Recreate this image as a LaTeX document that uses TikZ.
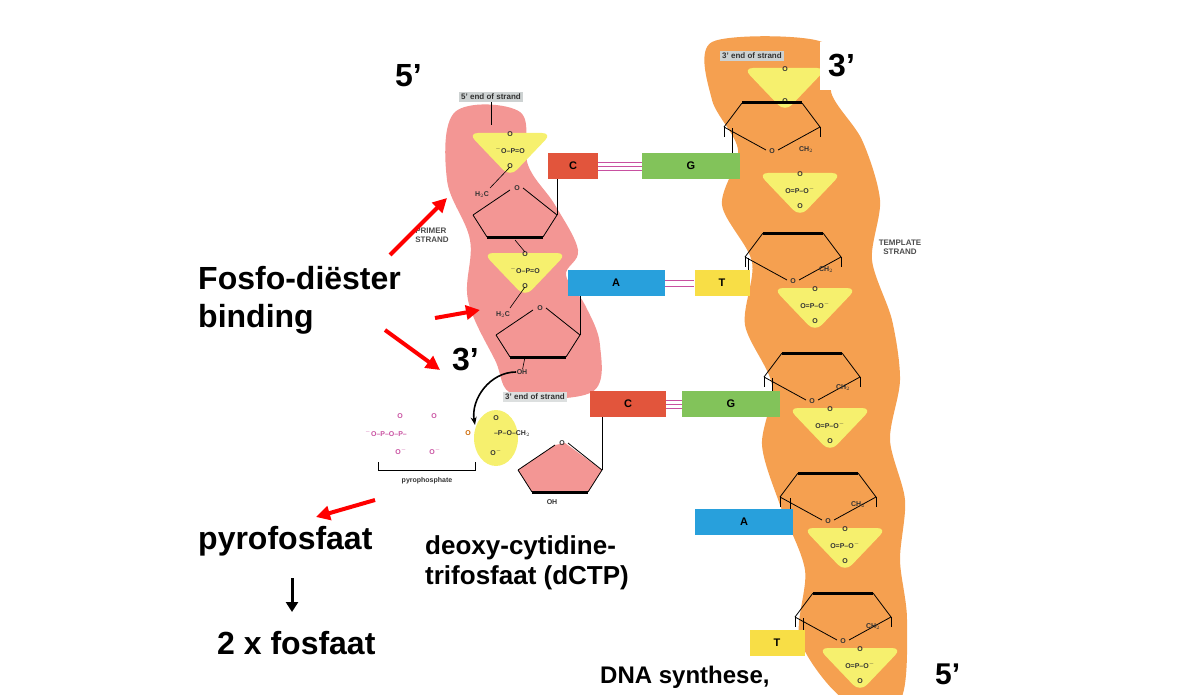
\documentclass[tikz,border=0pt]{standalone}
\usepackage{fontspec}
\setmainfont{Liberation Sans}
\usetikzlibrary{arrows.meta}
\definecolor{pinkb}{RGB}{243,150,148}
\definecolor{orb}{RGB}{245,160,80}
\definecolor{yel}{RGB}{246,240,110}
\definecolor{cred}{RGB}{226,85,60}
\definecolor{ggreen}{RGB}{130,195,90}
\definecolor{ablue}{RGB}{40,160,220}
\definecolor{tyel}{RGB}{248,222,70}
\definecolor{gbox}{RGB}{205,210,210}
\definecolor{pp}{RGB}{200,80,160}
\newcommand\ringA[2]{%
 \draw[line width=0.8pt] (#1-42,#2) -- (#1-5,#2-25) (#1+8,#2-27) -- (#1+42,#2) -- (#1+28,#2+22);
 \draw[line width=0.8pt] (#1-42,#2) -- (#1-28,#2+22);
 \draw[line width=3pt] (#1-28,#2+22) -- (#1+28,#2+22);
 \node[chem] at (#1+2,#2-27) {O};}
\newcommand\ringB[2]{%
 \draw[line width=0.8pt] (#1-48,#2+2) -- (#1-30,#2-22) (#1+30,#2-22) -- (#1+48,#2+2) -- (#1+6,#2+25) (#1-6,#2+25) -- (#1-48,#2+2);
 \draw[line width=3pt] (#1-30,#2-22) -- (#1+30,#2-22);
 \draw[line width=0.6pt] (#1-48,#2+2) -- (#1-48,#2+12) (#1+48,#2+2) -- (#1+48,#2+12);
 \node[chem] at (#1,#2+26) {O};}
\newcommand\phos[3]{%
 \fill[yel,rounded corners=10pt] (#1-42,#2-17) -- (#1+42,#2-17) -- (#1,#2+27) -- cycle;
 \node[chem] at (#1,#2-16) {O};
 \node[chem] at (#1,#2) {#3};
 \node[chem] at (#1,#2+16) {O};}
\tikzset{chem/.style={font=\bfseries\fontsize{7}{8}\selectfont, inner sep=0.5pt, text=black!80},
 big/.style={font=\bfseries\fontsize{32}{38}\selectfont, inner sep=0pt, anchor=west, align=left},
 med/.style={font=\bfseries\fontsize{26}{30}\selectfont, inner sep=0pt, anchor=west, align=left},
 base/.style={draw=none, minimum height=26pt, font=\bfseries\fontsize{11}{12}\selectfont, inner sep=0pt},
 tag/.style={fill=gbox, font=\bfseries\fontsize{8}{9}\selectfont, inner sep=2pt, text=black!80},
 redarr/.style={-{Triangle[length=14pt,width=14pt]}, red, line width=4pt},
 hb/.style={pp, line width=0.8pt},
 stem/.style={line width=0.6pt}}
\begin{document}
\begin{tikzpicture}[x=1pt,y=-1pt]
\useasboundingbox (0,0) rectangle (1198,695);
\begin{scope}
\clip (0,0) rectangle (1198,695);
\fill[pinkb] plot[smooth cycle, tension=0.6] coordinates {(455,112) (520,112) (528,165) (555,205) (578,250) (566,275) (585,305) (600,345) (592,392) (515,395) (495,360) (468,300) (470,240) (447,180)};
\fill[orb] plot[smooth cycle, tension=0.5] coordinates {(712,42) (822,42) (832,95) (862,140) (880,200) (872,260) (892,320) (900,380) (890,440) (905,500) (900,560) (907,620) (900,700) (845,700) (800,640) (805,570) (780,505) (762,445) (772,385) (745,325) (752,262) (722,205) (738,150) (712,100)};
\end{scope}
% primer strand
\node[tag] (t5) at (491,97) {5' end of strand};
\draw[stem] (t5) -- (491,125);
\phos{510}{150}{$^-$O–P=O}
\ringA{515}{215}
\node[chem] at (482,195) {H$_2$C};
\draw[stem] (510,167) -- (490,188);
\phos{525}{270}{$^-$O–P=O}
\draw[stem] (515,240) -- (525,252);
\ringA{538}{335}
\node[chem] at (503,315) {H$_2$C};
\draw[stem] (525,287) -- (510,308);
\node[chem] (oh) at (522,372) {OH};
\draw[stem] (525,357) -- (oh);
\node[font=\bfseries\fontsize{8}{9}\selectfont, text=black!70, align=left, inner sep=0] at (432,235) {PRIMER\\STRAND};
% template strand
\phos{785}{85}{}
\node[tag, anchor=west] (t3) at (720,56) {3' end of strand};
\ringB{772}{125}
\node[chem] at (806,150) {CH$_2$};
\phos{800}{190}{O=P–O$^-$}
\ringB{793}{255}
\node[chem] at (826,270) {CH$_2$};
\phos{815}{305}{O=P–O$^-$}
\ringB{812}{375}
\node[chem] at (843,388) {CH$_2$};
\phos{830}{425}{O=P–O$^-$}
\ringB{828}{495}
\node[chem] at (858,505) {CH$_2$};
\phos{845}{545}{O=P–O$^-$}
\ringB{843}{615}
\node[chem] at (873,627) {CH$_2$};
\phos{860}{665}{O=P–O$^-$}
\node[font=\bfseries\fontsize{8}{9}\selectfont, text=black!70, align=center, inner sep=0] at (900,247) {TEMPLATE\\STRAND};
% base pairs
\node[base, fill=cred, minimum width=50pt] (c1) at (573,166) {C};
\node[base, fill=ggreen, minimum width=98pt] (g1) at (691,166) {G};
\draw[hb] ([yshift=-4pt]c1.east) -- ([yshift=-4pt]g1.west) (c1.east) -- (g1.west) ([yshift=4pt]c1.east) -- ([yshift=4pt]g1.west);
\node[base, fill=ablue, minimum width=97pt] (a1) at (616,283) {A};
\node[base, fill=tyel, minimum width=55pt] (t1) at (722,283) {T};
\draw[hb] ([yshift=-3pt]a1.east) -- ([yshift=-3pt]t1.west) ([yshift=3pt]a1.east) -- ([yshift=3pt]t1.west);
\node[base, fill=cred, minimum width=76pt] (c2) at (628,404) {C};
\node[base, fill=ggreen, minimum width=98pt] (g2) at (731,404) {G};
\draw[hb] ([yshift=-4pt]c2.east) -- ([yshift=-4pt]g2.west) (c2.east) -- (g2.west) ([yshift=4pt]c2.east) -- ([yshift=4pt]g2.west);
\node[base, fill=ablue, minimum width=98pt] (a2) at (744,522) {A};
\node[base, fill=tyel, minimum width=55pt] (t2) at (777,643) {T};
\draw[stem] (c1.south -| 557,0) -- (557,215);
\draw[stem] (a1.south -| 580,0) -- (580,335);
\draw[stem] (c2.south -| 602,0) -- (602,470);
\draw[stem] (g1.north -| 732,0) -- (732,128);
\draw[stem] (t1.north -| 748,0) -- (748,258);
\draw[stem] (g2.north -| 772,0) -- (772,378);
\draw[stem] (a2.north -| 790,0) -- (790,498);
\draw[stem] (t2.north -| 803,0) -- (803,618);
% dCTP
\node[tag, fill=gbox!70] (t3b) at (535,397) {3' end of strand};
\fill[yel] (496,438) ellipse (22pt and 28pt);
\node[chem, text=pp] at (386,433) {$^-$O–P–O–P–};
\node[chem, text=pp] at (400,416) {O};
\node[chem, text=pp] at (434,416) {O};
\node[chem, text=pp] at (401,451) {O$^-$};
\node[chem, text=pp] at (435,451) {O$^-$};
\node[chem, text=orange!80!black] (o1) at (468,433) {O};
\node[chem] at (512,434) {–P–O–CH$_2$};
\node[chem] at (496,418) {O};
\node[chem] at (496,452) {O$^-$};
\fill[pinkb] (518,470) -- (555,445) -- (565,443) -- (602,470) -- (588,492) -- (532,492) -- cycle;
\ringA{560}{470}
\node[chem] (oh2) at (552,502) {OH};
\draw[line width=0.6pt] (378,462) -- (378,470) -- (475,470) -- (475,462);
\node[chem] at (427,481) {pyrophosphate};
\draw[-{Stealth[length=8pt]}, line width=1.6pt] (oh.west) to[out=180, in=100] (475,425);
% labels
\node[big] at (395,76) {5'};
\fill[white] (820,42) rectangle (860,90);
\node[big] at (828,66) {3'};
\node[big] at (198,300) {Fosfo-diëster\\binding};
\node[big] at (452,360) {3'};
\node[big] at (198,541) {pyrofosfaat};
\node[big] at (217,643) {2 x fosfaat};
\node[med] at (425,563) {deoxy-cytidine-\\trifosfaat (dCTP)};
\node[font=\bfseries\fontsize{24}{28}\selectfont, anchor=west, inner sep=0] at (600,677) {DNA synthese,};
\node[font=\bfseries\fontsize{30}{34}\selectfont, anchor=west, inner sep=0] at (935,674) {5'};
% arrows
\coordinate (r1s) at (390,255); \coordinate (r1e) at (447,198);
\coordinate (r2s) at (435,318); \coordinate (r2e) at (480,310);
\coordinate (r3s) at (385,330); \coordinate (r3e) at (440,370);
\coordinate (r4s) at (375,500); \coordinate (r4e) at (316,517);
\draw[redarr] (r1s) -- (r1e);
\draw[redarr] (r2s) -- (r2e);
\draw[redarr] (r3s) -- (r3e);
\draw[redarr] (r4s) -- (r4e);
\coordinate (b1) at (292,578); \coordinate (b2) at (292,612);
\draw[-{Triangle[length=10pt,width=12pt]}, line width=3pt] (b1) -- (b2);
\end{tikzpicture}
\end{document}
